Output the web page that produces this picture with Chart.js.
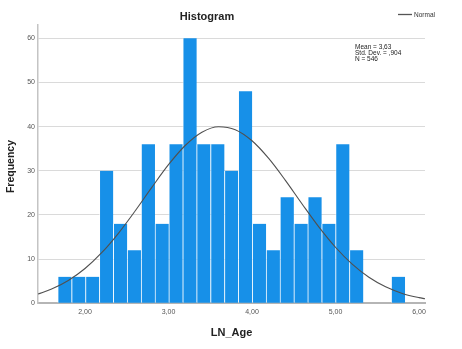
<!DOCTYPE html>
<html>
<head>
<meta charset="utf-8">
<script src="https://cdn.jsdelivr.net/npm/chart.js@4"></script>
<style>
  html, body { margin: 0; padding: 0; background: #fff; }
  #wrap { width: 462px; height: 349px; position: relative; }
</style>
</head>
<body>
<div id="wrap"><canvas id="c"></canvas></div>
<script>
// ---- data ----
const chartTitle = "Histogram";
const xTitle = "LN_Age";
const yTitle = "Frequency";
const legendLabel = "Normal";
const statsLines = ["Mean = 3,63", "Std. Dev. = ,904", "N = 546"];

// histogram bin centers (LN_Age) and frequencies
const binCenters = [1.756, 1.923, 2.089, 2.255, 2.422, 2.588, 2.755, 2.921, 3.087, 3.254,
                    3.420, 3.587, 3.753, 3.919, 4.086, 4.252, 4.418, 4.585, 4.751, 4.918,
                    5.084, 5.250, 5.417, 5.583, 5.750];
const frequencies = [6, 6, 6, 30, 18, 12, 36, 18, 36, 60,
                     36, 36, 30, 48, 18, 12, 24, 18, 24, 18,
                     36, 12, 0, 0, 6];

// normal curve points
const curveX = [1.437, 1.6, 1.8, 2.0, 2.2, 2.4, 2.6, 2.8, 3.0, 3.2, 3.4, 3.6, 3.8,
                4.0, 4.2, 4.4, 4.6, 4.8, 5.0, 5.2, 5.4, 5.6, 5.8, 6.0, 6.072];
const curveY = [2.11, 3.21, 5.16, 7.87, 11.45, 15.85, 20.90, 26.24, 31.38, 35.72, 38.73, 39.98, 39.30,
                36.79, 32.79, 27.83, 22.49, 17.31, 12.69, 8.85, 5.88, 3.72, 2.24, 1.29, 1.04];

// axis ticks
const xTicks = [2, 3, 4, 5, 6];
const yTicks = [0, 10, 20, 30, 40, 50, 60];

const FONT = "'Liberation Sans', Arial, Helvetica, sans-serif";

const textPlugin = {
  id: 'textPlugin',
  afterDraw(chart) {
    const ctx = chart.ctx;
    const area = chart.chartArea;
    ctx.save();
    ctx.fillStyle = '#222';
    ctx.textBaseline = 'middle';
    // title
    ctx.font = "bold 11px " + FONT;
    ctx.textAlign = 'center';
    ctx.fillText(chartTitle, 207, 16.5);
    // x title
    ctx.fillText(xTitle, (area.left + area.right) / 2, 333);
    // y title
    ctx.save();
    ctx.translate(11, 166.5);
    ctx.rotate(-Math.PI / 2);
    ctx.font = "bold 10.5px " + FONT;
    ctx.fillText(yTitle, 0, 0);
    ctx.restore();
    // legend
    ctx.strokeStyle = '#555';
    ctx.lineWidth = 1.3;
    ctx.beginPath();
    ctx.moveTo(398, 14.5);
    ctx.lineTo(412, 14.5);
    ctx.stroke();
    ctx.font = "6.5px " + FONT;
    ctx.textAlign = 'left';
    ctx.fillStyle = '#333';
    ctx.fillText(legendLabel, 414, 15);
    // stats
    ctx.fillStyle = '#222';
    ctx.font = "6.5px " + FONT;
    statsLines.forEach((s, i) => ctx.fillText(s, 355, 47.5 + i * 6));
    ctx.restore();
  }
};

new Chart(document.getElementById('c'), {
  type: 'bar',
  data: {
    datasets: [
      {
        type: 'line',
        label: legendLabel,
        data: curveX.map((x, i) => ({ x: x, y: curveY[i] })),
        borderColor: '#505050',
        borderWidth: 1.1,
        pointRadius: 0,
        fill: false,
        cubicInterpolationMode: 'monotone',
        order: 0
      },
      {
        type: 'bar',
        label: 'Frequency',
        data: binCenters.map((x, i) => ({ x: x, y: frequencies[i] })),
        backgroundColor: '#1790e8',
        borderColor: 'rgba(255,255,255,0.6)',
        borderWidth: { left: 1, right: 0, top: 0, bottom: 0 },
        borderSkipped: false,
        barPercentage: 1,
        categoryPercentage: 1,
        order: 1
      }
    ]
  },
  options: {
    responsive: true,
    maintainAspectRatio: false,
    animation: false,
    layout: { padding: { top: 25, right: 37, bottom: 0, left: 0 } },
    plugins: {
      legend: { display: false },
      title: { display: false },
      tooltip: { enabled: false }
    },
    scales: {
      x: {
        type: 'linear',
        min: 1.437,
        max: 6.072,
        offset: false,
        afterFit: (s) => { s.height = 45.7; },
        afterBuildTicks: (s) => { s.ticks = xTicks.map(v => ({ value: v })); },
        grid: { display: false, drawTicks: false },
        border: { display: true, color: '#b5b5b5', width: 2 },
        ticks: {
          padding: 5,
          color: '#555',
          font: { family: FONT, size: 7 },
          maxRotation: 0,
          autoSkip: false,
          callback: (v) => Number(v).toFixed(2).replace('.', ',')
        }
      },
      y: {
        type: 'linear',
        min: 0,
        max: 63,
        afterFit: (s) => { s.width = 38; },
        afterBuildTicks: (s) => { s.ticks = yTicks.map(v => ({ value: v })); },
        grid: {
          drawTicks: false,
          color: (c) => (c.tick && c.tick.value === 0) ? 'rgba(0,0,0,0)' : '#dadada',
          lineWidth: 1
        },
        border: { display: true, color: '#c4c4c4', width: 1.5 },
        ticks: {
          padding: 3,
          color: '#555',
          font: { family: FONT, size: 7 },
          autoSkip: false
        }
      }
    }
  },
  plugins: [textPlugin]
});
</script>
</body>
</html>
